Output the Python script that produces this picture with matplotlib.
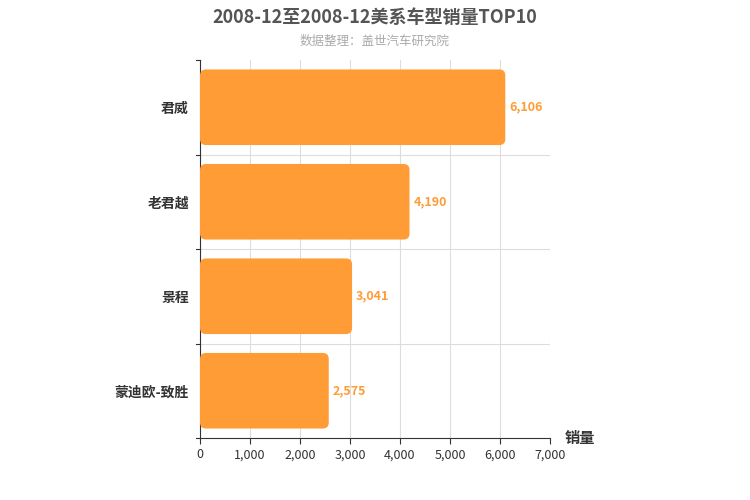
import matplotlib.pyplot as plt
from matplotlib.patches import FancyBboxPatch

plt.rcParams['font.family'] = ['Noto Sans CJK SC', 'DejaVu Sans']

models = ['君威', '老君越', '景程', '蒙迪欧-致胜']
sales = [6106, 4190, 3041, 2575]

fig = plt.figure(figsize=(7.5, 5), dpi=100)
ax = fig.add_axes([200/750, 62/500, 350/750, 378/500])
ax.set_xlim(0, 7000)
ax.set_ylim(-0.5, len(models) - 0.5)
ax.invert_yaxis()

color = '#FF9C35'
h = 0.8
for i, v in enumerate(sales):
    y = i
    p = FancyBboxPatch((0, y - h/2), v, h,
                       boxstyle='round,pad=0,rounding_size=120',
                       mutation_aspect=0.0106/20*1.0,
                       fc=color, ec='none', zorder=3)
    ax.add_patch(p)
    ax.text(v + 80, y, f'{v:,}', va='center', ha='left', color=color,
            fontsize=9, fontweight='bold', zorder=4)

ax.set_xticks(range(0, 7001, 1000))
ax.set_xticklabels([f'{x:,}' for x in range(0, 7001, 1000)], fontsize=9, color='#333333')
ax.set_yticks(range(len(models)))
ax.set_yticklabels(models, fontsize=10, fontweight='bold', color='#333333')
ax.tick_params(axis='y', length=0, pad=8)
ax.tick_params(axis='x', length=4, color='#333333')
for yb in [0.5, 1.5, 2.5]:
    ax.axhline(yb, color='#dddddd', lw=0.8, zorder=1)
for yb in [-0.5, 0.5, 1.5, 2.5, 3.5]:
    ax.plot([-80, 0], [yb, yb], color='#333333', lw=0.8, clip_on=False)
ax.grid(axis='x', color='#dddddd', lw=0.8, zorder=0)
for s in ['top', 'right']:
    ax.spines[s].set_visible(False)
ax.spines['left'].set_color('#333333')
ax.spines['bottom'].set_color('#333333')

fig.text(0.5, 0.965, '2008-12至2008-12美系车型销量TOP10', ha='center', va='center',
         fontsize=13, fontweight='bold', color='#555555')
fig.text(0.5, 0.918, '数据整理：盖世汽车研究院', ha='center', va='center',
         fontsize=9, color='#aaaaaa')
fig.text(565/750, 1 - 438/500, '销量', ha='left', va='center', fontsize=11,
         fontweight='bold', color='#333333')

fig.savefig('out.png', dpi=100)
